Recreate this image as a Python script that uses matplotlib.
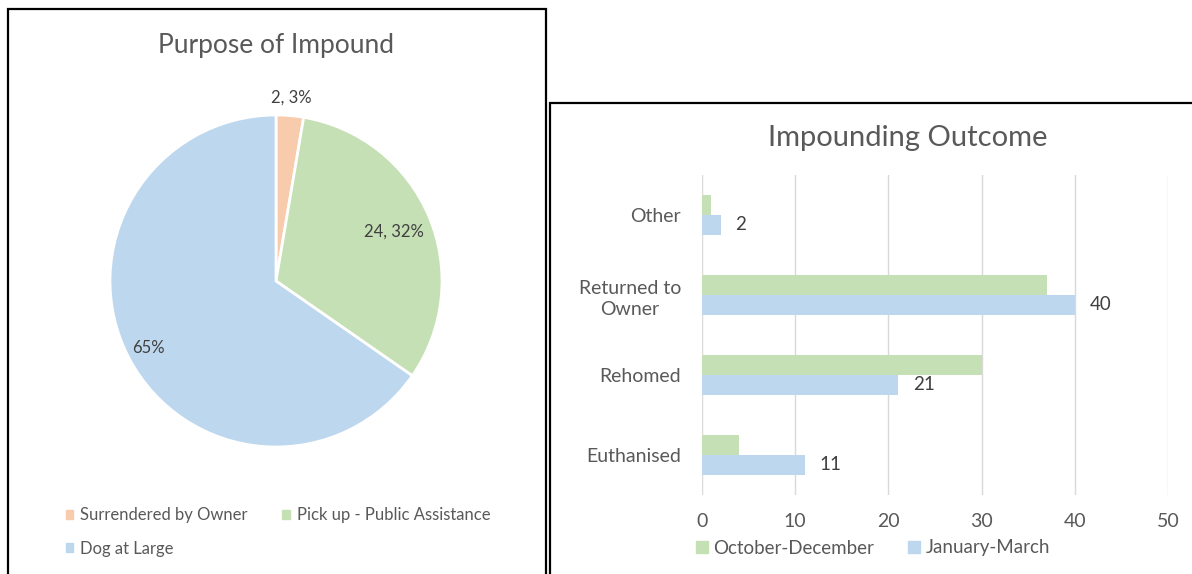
import numpy as np
import matplotlib.pyplot as plt
from matplotlib.patches import Rectangle, Patch

plt.rcParams['font.family'] = ['Lato', 'DejaVu Sans']

# pie data
purpose_labels = ['Surrendered by Owner', 'Pick up - Public Assistance', 'Dog at Large']
purpose_counts = [2, 24, 49]
purpose_show_count = [True, True, False]

# bar data
outcome_cats = ['Other', 'Returned to\nOwner', 'Rehomed', 'Euthanised']
oct_dec = [1, 37, 30, 4]
jan_mar = [2, 40, 21, 11]
series_names = ['October-December', 'January-March']

W, H = 1192, 574
ORANGE, GREEN, BLUE = '#F8CBAD', '#C5E0B4', '#BDD7EE'
TXT = '#595959'
DARK = '#404040'


def rect(x0, y0, x1, y1):
    # pixel box (top-left origin) -> figure fraction
    return [x0 / W, 1 - y1 / H, (x1 - x0) / W, (y1 - y0) / H]


fig = plt.figure(figsize=(W / 100, H / 100), dpi=100)

# panel borders
for x0, y0, x1, y1 in [(8, 9, 546, 590), (550, 103, 1200, 590)]:
    fig.patches.append(Rectangle((x0 / W, 1 - y1 / H), (x1 - x0) / W, (y1 - y0) / H,
                                 transform=fig.transFigure, fill=False,
                                 edgecolor='black', linewidth=1.6, clip_on=False))

# ---- pie ----
cx, cy, r = 276, 281, 166
pie_ax = fig.add_axes(rect(cx - r, cy - r, cx + r, cy + r))
wedges, _ = pie_ax.pie(purpose_counts, colors=[ORANGE, GREEN, BLUE], startangle=90,
                       counterclock=False, radius=1,
                       wedgeprops=dict(edgecolor='white', linewidth=2))
pie_ax.set_xlim(-1, 1)
pie_ax.set_ylim(-1, 1)
pie_ax.set_aspect('equal')

total = sum(purpose_counts)
label_r = [1.11, 0.77, 0.87]
for w, n, show, lr in zip(wedges, purpose_counts, purpose_show_count, label_r):
    ang = np.deg2rad((w.theta1 + w.theta2) / 2)
    pct = round(100 * n / total)
    s = f'{n}, {pct}%' if show else f'{pct}%'
    pie_ax.text(lr * np.cos(ang), lr * np.sin(ang), s, ha='center', va='center',
                fontsize=12, color=DARK, clip_on=False)

fig.text(276 / W, 1 - 45 / H, 'Purpose of Impound', ha='center', va='center',
         fontsize=19, color=TXT)

h = [Patch(color=c) for c in [ORANGE, GREEN, BLUE]]
fig.legend([h[0], h[2], h[1]], [purpose_labels[0], purpose_labels[2], purpose_labels[1]],
           ncol=2, loc='center', bbox_to_anchor=(278 / W, 1 - 532 / H), frameon=False,
           fontsize=12, labelcolor=TXT, handlelength=0.45, handleheight=0.45,
           handletextpad=0.4, columnspacing=2.1, labelspacing=1.05)

# ---- bars ----
bar_ax = fig.add_axes(rect(702, 175, 1168, 495))
ypos = np.arange(len(outcome_cats))
bh = 0.25
bar_ax.barh(ypos - bh / 2, oct_dec, height=bh, color=GREEN, label=series_names[0], zorder=2)
bars = bar_ax.barh(ypos + bh / 2, jan_mar, height=bh, color=BLUE, label=series_names[1], zorder=2)
for b, v in zip(bars, jan_mar):
    bar_ax.text(v + 1.6, b.get_y() + b.get_height() / 2, str(v), ha='left', va='center',
                fontsize=13.5, color=DARK)
bar_ax.set_ylim(len(outcome_cats) - 0.5, -0.5)
bar_ax.set_xlim(0, 50)
bar_ax.set_xticks(range(0, 51, 10))
bar_ax.set_yticks(ypos)
bar_ax.set_yticklabels(outcome_cats, ha='right', multialignment='center', linespacing=1.35)
bar_ax.tick_params(axis='y', length=0, pad=15, labelsize=14, labelcolor=TXT)
bar_ax.tick_params(axis='x', length=0, pad=13, labelsize=14, labelcolor=TXT)
bar_ax.grid(axis='x', color='#D9D9D9', linewidth=1, zorder=0)
for sp in bar_ax.spines.values():
    sp.set_visible(False)

fig.text(908 / W, 1 - 138 / H, 'Impounding Outcome', ha='center', va='center',
         fontsize=21, color=TXT)
fig.legend([Patch(color=GREEN), Patch(color=BLUE)], series_names, ncol=2, loc='center',
           bbox_to_anchor=(873 / W, 1 - 548 / H), frameon=False, fontsize=13.5,
           labelcolor=TXT, handlelength=0.65, handleheight=0.65, handletextpad=0.3,
           columnspacing=1.8)

fig.savefig('out.png', dpi=100)
